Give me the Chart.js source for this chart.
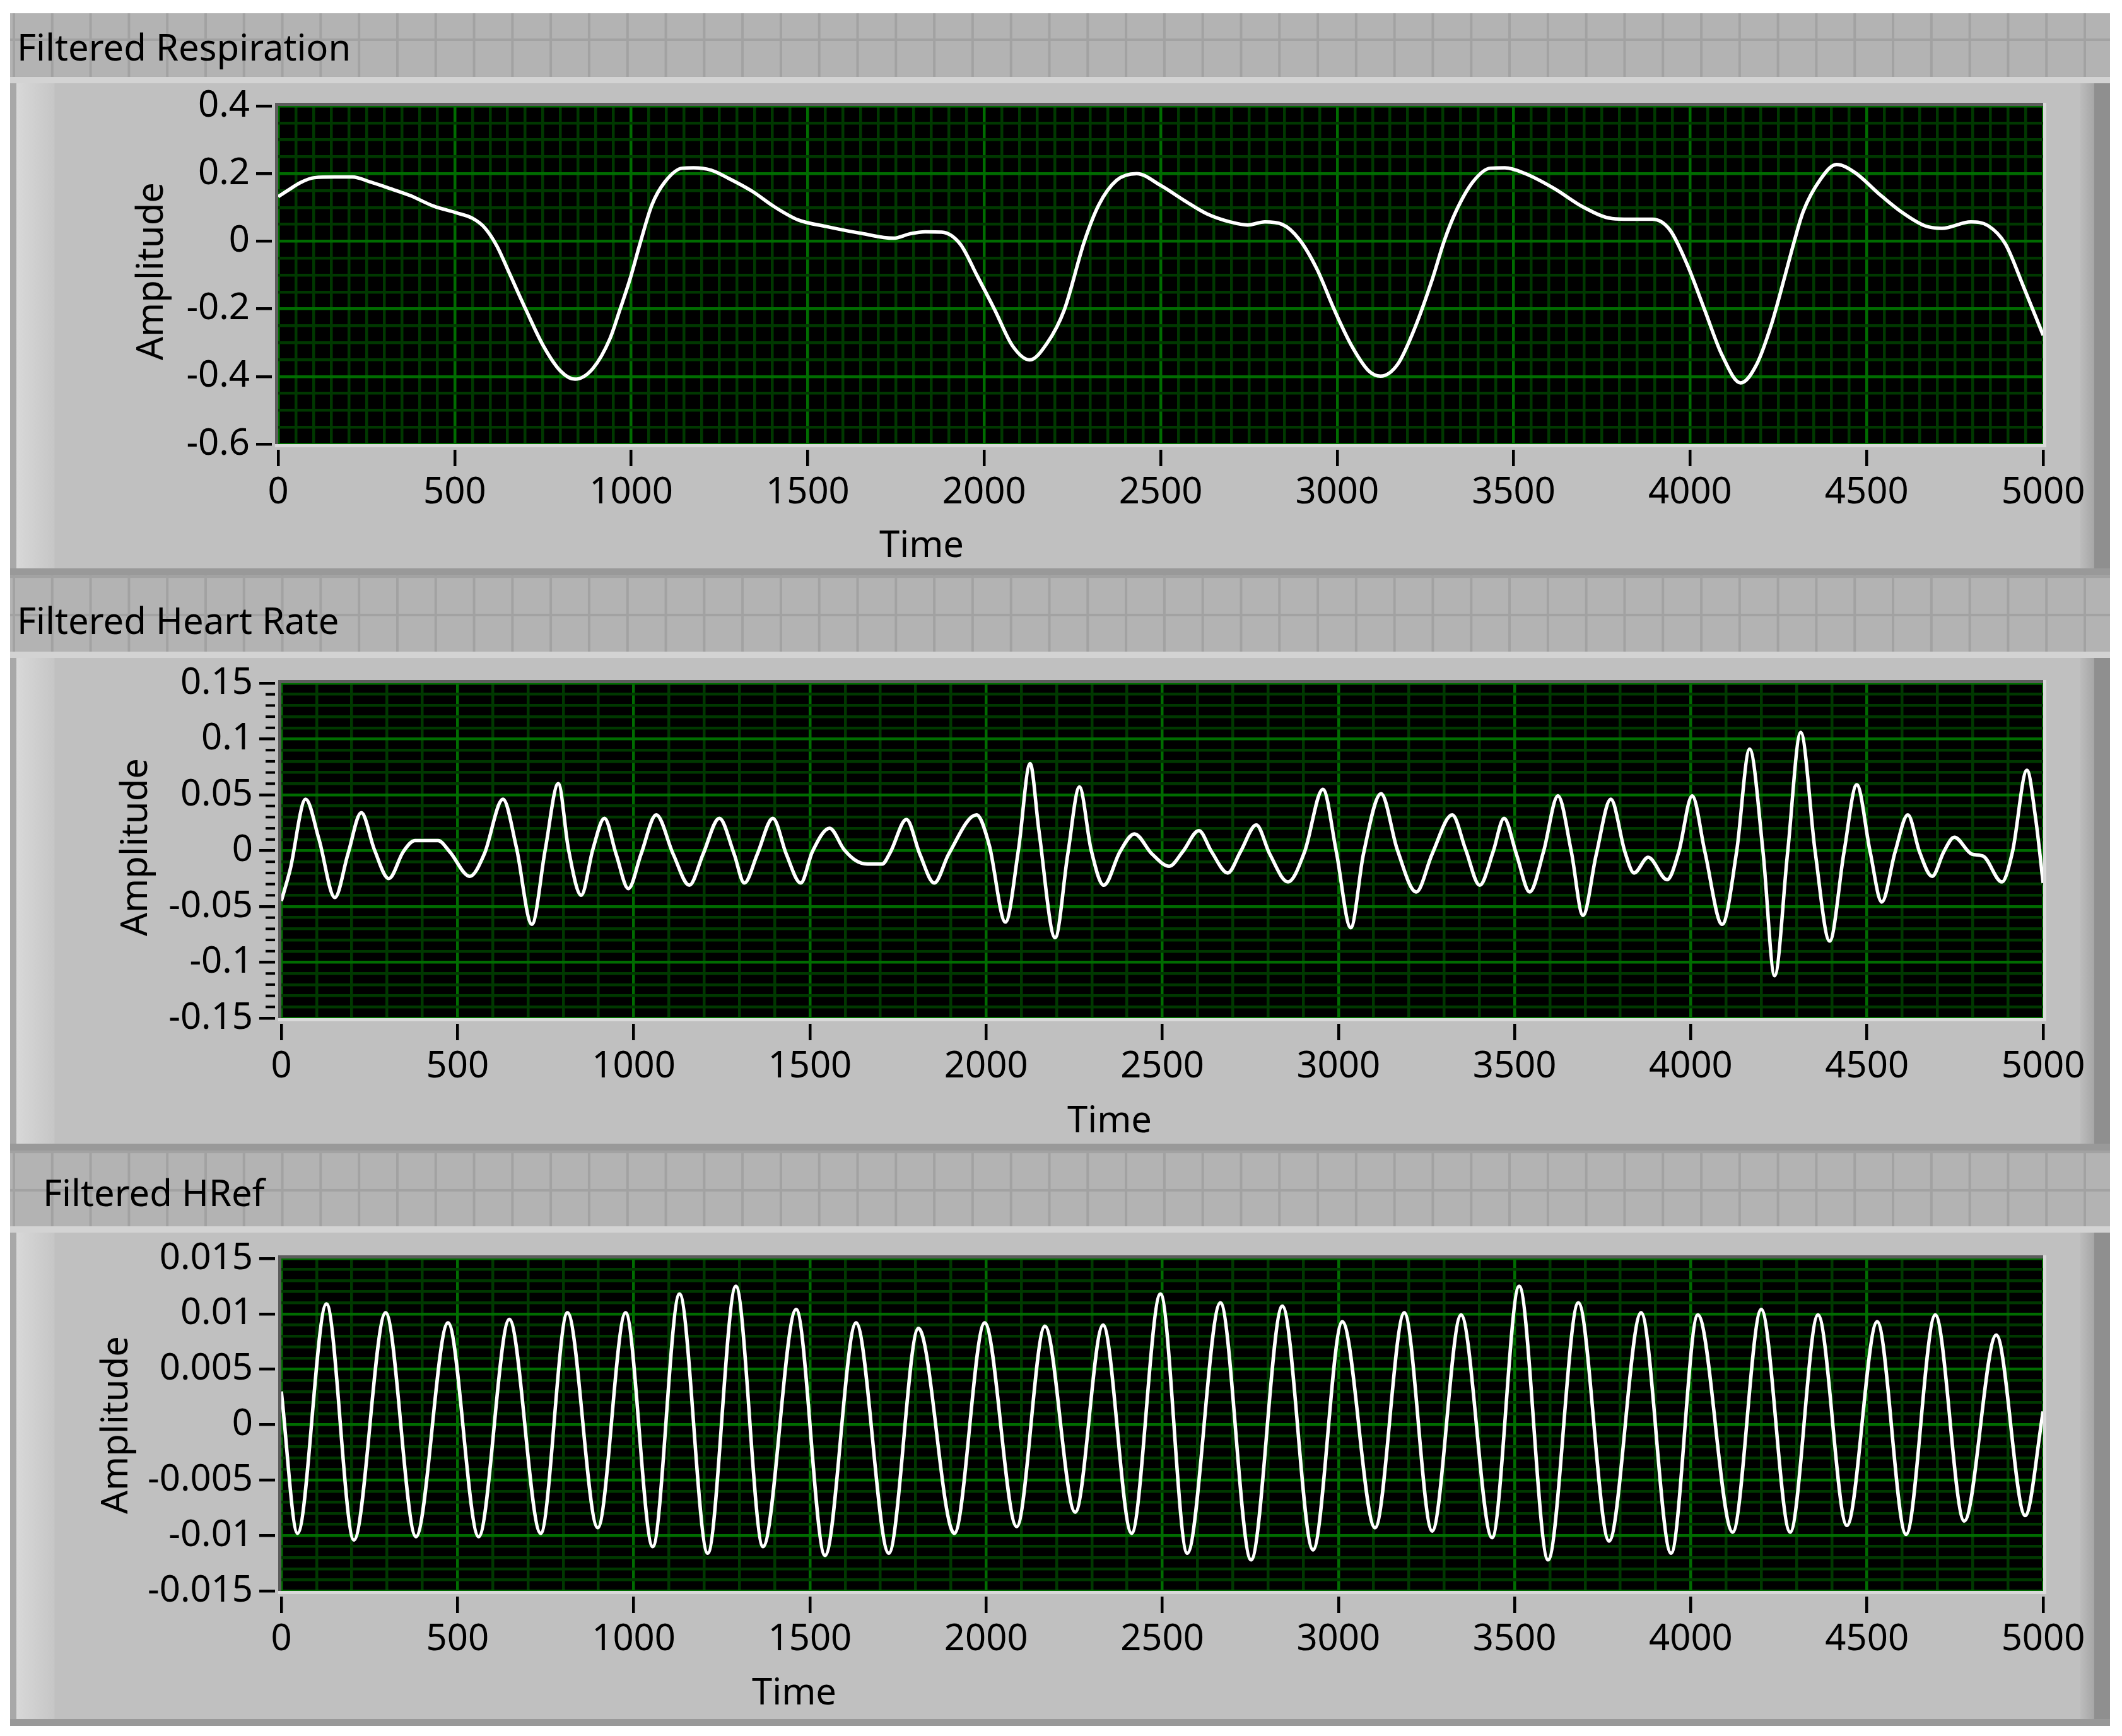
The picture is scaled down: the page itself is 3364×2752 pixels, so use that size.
<!DOCTYPE html>
<html lang="en">
<head>
<meta charset="UTF-8">
<title>Filtered signals</title>
<script src="https://cdn.jsdelivr.net/npm/chart.js"></script>
<style>
    body {
        margin: 0;
        width: 3364px;
        height: 2752px;
        background: #fff;
        position: relative;
        overflow: hidden;
        font-family: "Noto Sans", sans-serif;
    }
    /* LabVIEW front panel grid behind the graph labels */
    #board {
        position: absolute;
        left: 16px; top: 21px;
        width: 3329px; height: 2715px;
        background-color: #b3b3b3;
        background-image: linear-gradient(to right, #a2a2a2 4px, transparent 4px),
                          linear-gradient(to bottom, #a2a2a2 4px, transparent 4px);
        background-size: 60.8px 60.8px;
        background-position: 4px 40px;
    }
    .frame {
        position: absolute;
        left: 16px;
        width: 3329px;
        box-sizing: border-box;
        border-top: 10px solid #d3d3d3;
        border-bottom: 11px solid #999;
        background:
            linear-gradient(to right, #a8a8a8 0, #a8a8a8 10px, #d8d8d8 10px, #c6c6c6 70px, rgba(192,192,192,0) 71px),
            linear-gradient(to left, #8f8f8f 0, #8f8f8f 25px, #a6a6a6 25px, #bcbcbc 47px, rgba(192,192,192,0) 48px),
            #c0c0c0;
    }
    canvas { position: absolute; left: 0; }
    .txt {
        position: absolute;
        font-size: 58px;
        line-height: 58px;
        color: #000;
        white-space: nowrap;
    }
    .amp { transform: translate(-50%, -50%) rotate(-90deg); }
    .time { transform: translateX(-50%); }
</style>
</head>
<body>
<div id="board"></div>

<div class="frame" style="top:122px; height:790px;"></div>
<div class="frame" style="top:1033px; height:791px;"></div>
<div class="frame" style="top:1944px; height:792px;"></div>

<canvas id="resp" width="3364" height="790" style="top:122px;"></canvas>
<canvas id="hr" width="3364" height="791" style="top:1033px;"></canvas>
<canvas id="href" width="3364" height="792" style="top:1944px;"></canvas>

<div class="txt" style="left:27px; top:45px;">Filtered Respiration</div>
<div class="txt" style="left:27px; top:954px;">Filtered Heart Rate</div>
<div class="txt" style="left:68px; top:1861px;">Filtered HRef</div>

<div class="txt amp" style="left:236px; top:430px;">Amplitude</div>
<div class="txt amp" style="left:211px; top:1343px;">Amplitude</div>
<div class="txt amp" style="left:180px; top:2259px;">Amplitude</div>

<div class="txt time" style="left:1461px; top:832px;">Time</div>
<div class="txt time" style="left:1759px; top:1744px;">Time</div>
<div class="txt time" style="left:1259px; top:2651px;">Time</div>

<script>
    // values (time, amplitude)
    const respTime = [0, 30, 62, 103, 160, 210, 259, 308, 374, 440,
        505, 550, 585, 620, 653, 702, 751, 800, 841, 891,
        940, 968, 997, 1027, 1059, 1096, 1145, 1177, 1227, 1276,
        1341, 1407, 1473, 1555, 1653, 1743, 1790, 1833, 1880, 1932,
        1981, 2030, 2080, 2129, 2178, 2227, 2284, 2325, 2375, 2432,
        2500, 2566, 2631, 2697, 2746, 2795, 2844, 2893, 2943, 2992,
        3041, 3090, 3123, 3172, 3221, 3270, 3303, 3336, 3385, 3434,
        3475, 3533, 3615, 3697, 3779, 3828, 3893, 3943, 3992, 4041,
        4090, 4143, 4189, 4230, 4270, 4295, 4320, 4369, 4415, 4467,
        4533, 4598, 4664, 4713, 4795, 4844, 4893, 4943, 5000];
    const respAmp = [0.132, 0.152, 0.173, 0.188, 0.19, 0.19, 0.176, 0.159, 0.135, 0.104,
        0.084, 0.068, 0.04, -0.015, -0.09, -0.203, -0.309, -0.384, -0.408, -0.377,
        -0.288, -0.203, -0.111, 0.0, 0.108, 0.176, 0.216, 0.217, 0.21, 0.186,
        0.149, 0.101, 0.063, 0.043, 0.023, 0.009, 0.022, 0.028, 0.027, -0.008,
        -0.104, -0.203, -0.309, -0.351, -0.302, -0.203, 0.0, 0.108, 0.18, 0.2,
        0.165, 0.121, 0.081, 0.057, 0.048, 0.057, 0.05, 0.005, -0.083, -0.203,
        -0.309, -0.384, -0.399, -0.363, -0.254, -0.111, 0.0, 0.087, 0.176, 0.216,
        0.217, 0.2, 0.156, 0.101, 0.067, 0.065, 0.065, 0.033, -0.07, -0.203,
        -0.336, -0.419, -0.363, -0.247, -0.097, 0.0, 0.087, 0.183, 0.227, 0.203,
        0.142, 0.087, 0.046, 0.038, 0.057, 0.046, -0.008, -0.131, -0.278];

    const hrTime = [0, 25, 69, 107, 152, 189, 227, 264, 305, 346,
        379, 445, 478, 535, 576, 629, 667, 711, 749, 786,
        815, 851, 884, 917, 950, 985, 1021, 1064, 1112, 1158,
        1197, 1243, 1285, 1314, 1351, 1395, 1433, 1474, 1507, 1556,
        1597, 1631, 1663, 1705, 1729, 1774, 1812, 1853, 1894, 1973,
        2009, 2055, 2092, 2125, 2150, 2196, 2232, 2265, 2298, 2334,
        2380, 2421, 2471, 2520, 2558, 2604, 2640, 2686, 2722, 2767,
        2805, 2857, 2904, 2956, 2994, 3035, 3071, 3121, 3167, 3221,
        3266, 3323, 3361, 3401, 3439, 3470, 3505, 3543, 3582, 3623,
        3661, 3694, 3732, 3773, 3813, 3839, 3879, 3933, 3966, 4004,
        4040, 4089, 4130, 4167, 4205, 4238, 4275, 4312, 4353, 4394,
        4435, 4471, 4509, 4542, 4580, 4616, 4649, 4685, 4718, 4748,
        4797, 4830, 4883, 4913, 4954, 4979, 5000];
    const hrAmp = [-0.045, -0.017, 0.046, 0.010, -0.042, -0.003, 0.034, 0.001, -0.025, -0.001,
        0.009, 0.009, -0.001, -0.023, -0.003, 0.046, 0.003, -0.066, 0.001, 0.060,
        0.001, -0.040, 0.001, 0.029, -0.003, -0.034, -0.003, 0.032, -0.003, -0.031,
        -0.003, 0.029, -0.003, -0.029, -0.003, 0.029, -0.003, -0.029, -0.001, 0.020,
        0.001, -0.009, -0.012, -0.012, -0.001, 0.028, -0.003, -0.029, -0.003, 0.032,
        0.005, -0.064, 0.001, 0.078, 0.018, -0.078, -0.003, 0.057, 0.001, -0.031,
        -0.001, 0.015, -0.003, -0.014, -0.001, 0.018, -0.001, -0.020, -0.001, 0.023,
        -0.003, -0.028, -0.001, 0.055, -0.001, -0.069, -0.003, 0.051, 0.001, -0.037,
        -0.003, 0.032, 0.001, -0.031, -0.001, 0.029, -0.003, -0.037, -0.001, 0.049,
        -0.001, -0.058, -0.003, 0.046, -0.001, -0.020, -0.006, -0.026, -0.001, 0.049,
        -0.001, -0.066, -0.001, 0.091, -0.001, -0.112, -0.001, 0.106, -0.001, -0.081,
        -0.001, 0.059, -0.001, -0.046, -0.001, 0.032, -0.001, -0.023, -0.001, 0.012,
        -0.003, -0.005, -0.028, -0.001, 0.072, 0.028, -0.029];

    const hrefTime = [0, 46, 128, 206, 296, 382, 473, 560, 647, 736,
        812, 898, 977, 1054, 1130, 1210, 1290, 1367, 1461, 1543,
        1631, 1724, 1808, 1910, 1996, 2087, 2167, 2253, 2332, 2413,
        2495, 2571, 2665, 2752, 2841, 2928, 3011, 3104, 3187, 3266,
        3348, 3436, 3513, 3595, 3681, 3768, 3859, 3944, 4020, 4119,
        4200, 4282, 4361, 4443, 4529, 4611, 4694, 4776, 4867, 4949, 5000];
    const hrefAmp = [0.003, -0.0098, 0.0109, -0.0104, 0.0101, -0.0101, 0.0092, -0.0101, 0.0095, -0.0098,
        0.0101, -0.0093, 0.0101, -0.011, 0.0118, -0.0116, 0.0125, -0.011, 0.0104, -0.0118,
        0.0092, -0.0116, 0.0087, -0.0098, 0.0092, -0.0092, 0.0089, -0.0079, 0.009, -0.0098,
        0.0118, -0.0116, 0.011, -0.0122, 0.0107, -0.0113, 0.0093, -0.0093, 0.0101, -0.0096,
        0.0099, -0.0102, 0.0125, -0.0122, 0.011, -0.0105, 0.0101, -0.0116, 0.0099, -0.0097,
        0.0104, -0.0097, 0.0099, -0.0091, 0.0093, -0.0099, 0.0099, -0.0087, 0.0081, -0.0082, 0.0012];

    // labelled ticks
    const timeTicks = [0, 500, 1000, 1500, 2000, 2500, 3000, 3500, 4000, 4500, 5000];
    const respTicks = [-0.6, -0.4, -0.2, 0, 0.2, 0.4];
    const hrTicks = [-0.15, -0.1, -0.05, 0, 0.05, 0.1, 0.15];
    const hrefTicks = [-0.015, -0.01, -0.005, 0, 0.005, 0.01, 0.015];

    const MAJOR = '#006c00';
    const MINOR = '#003800';
    const FONT = { family: 'Noto Sans', size: 58 };

    function isMajor(v, list) {
        return list.some(t => Math.abs(t - v) < 1e-9);
    }

    // black plot area + sunken border, drawn around chartArea
    const plotFrame = {
        id: 'plotFrame',
        beforeDraw(chart) {
            const { ctx, chartArea: a } = chart;
            ctx.save();
            ctx.fillStyle = '#000';
            ctx.fillRect(a.left, a.top, a.right - a.left, a.bottom - a.top);
            ctx.restore();
        },
        afterDraw(chart, args, opts) {
            const { ctx, chartArea: a } = chart;
            const w = a.right - a.left, h = a.bottom - a.top;
            ctx.save();
            ctx.fillStyle = '#c0c0c0';
            ctx.fillRect(a.left - 10, a.top - 5, 5, h + 14);
            ctx.fillRect(a.left - 10, a.bottom + 5, w + 20, 4);
            ctx.fillStyle = '#5c5c5c';
            ctx.fillRect(a.left - 5, a.top - 5, w + 10, 5);
            ctx.fillRect(a.left - 5, a.top - 5, 5, h + 10);
            ctx.fillStyle = '#dadada';
            ctx.fillRect(a.left - 5, a.bottom, w + 10, 5);
            ctx.fillRect(a.right, a.top - 5, 5, h + 10);
            if (opts.minorTicks) {
                const y = chart.scales.y;
                ctx.fillStyle = '#000';
                y.ticks.forEach(t => {
                    if (!isMajor(t.value, opts.majors)) {
                        const py = y.getPixelForValue(t.value);
                        ctx.fillRect(a.left - 25, py - 2, 15, 4);
                    }
                });
            }
            ctx.restore();
        }
    };

    function makeGraph(id, g) {
        const points = g.time.map((t, i) => ({ x: t, y: g.amp[i] }));
        new Chart(document.getElementById(id), {
            type: 'line',
            data: {
                datasets: [{
                    data: points,
                    borderColor: '#ffffff',
                    borderWidth: 5.5,
                    pointRadius: 0,
                    fill: false,
                    cubicInterpolationMode: 'monotone'
                }]
            },
            options: {
                responsive: false,
                animation: false,
                devicePixelRatio: 1,
                events: [],
                layout: { padding: { left: g.left - 300, top: g.top, right: 125, bottom: 0 } },
                plugins: {
                    legend: { display: false },
                    tooltip: { enabled: false },
                    plotFrame: { minorTicks: g.minorTicks, majors: g.yTicks }
                },
                scales: {
                    x: {
                        type: 'linear',
                        position: 'bottom',
                        min: 0,
                        max: 5000,
                        afterFit: s => { s.height = g.xHeight; },
                        border: { display: false },
                        grid: {
                            lineWidth: 4.5,
                            color: c => (c.tick && isMajor(c.tick.value, timeTicks)) ? MAJOR : MINOR,
                            tickLength: 35,
                            tickWidth: 4.5,
                            tickColor: c => (c.tick && isMajor(c.tick.value, timeTicks)) ? '#000' : 'rgba(0,0,0,0)'
                        },
                        ticks: {
                            stepSize: g.xStep,
                            autoSkip: false,
                            maxRotation: 0,
                            minRotation: 0,
                            padding: 8,
                            color: '#000',
                            font: FONT,
                            callback: v => isMajor(v, timeTicks) ? String(v) : ''
                        }
                    },
                    y: {
                        type: 'linear',
                        position: 'left',
                        min: g.yTicks[0],
                        max: g.yTicks[g.yTicks.length - 1],
                        afterFit: s => { s.width = 300; },
                        border: { display: false },
                        grid: {
                            lineWidth: 4.5,
                            color: c => (c.tick && isMajor(c.tick.value, g.yTicks)) ? MAJOR : MINOR,
                            tickLength: 35,
                            tickWidth: 4.5,
                            tickColor: c => (c.tick && isMajor(c.tick.value, g.yTicks)) ? '#000' : 'rgba(0,0,0,0)'
                        },
                        ticks: {
                            stepSize: g.yStep,
                            autoSkip: false,
                            padding: 10,
                            color: '#000',
                            font: FONT,
                            callback: v => {
                                const t = g.yTicks.find(m => Math.abs(m - v) < 1e-9);
                                return t === undefined ? '' : String(t);
                            }
                        }
                    }
                }
            },
            plugins: [plotFrame]
        });
    }

    makeGraph('resp', { time: respTime, amp: respAmp, yTicks: respTicks, yStep: 0.05, xStep: 50,
        left: 441, top: 46, xHeight: 208, minorTicks: false });
    makeGraph('hr', { time: hrTime, amp: hrAmp, yTicks: hrTicks, yStep: 0.01, xStep: 100,
        left: 446, top: 50, xHeight: 210, minorTicks: true });
    makeGraph('href', { time: hrefTime, amp: hrefAmp, yTicks: hrefTicks, yStep: 0.001, xStep: 100,
        left: 446, top: 51, xHeight: 214, minorTicks: false });
</script>
</body>
</html>
